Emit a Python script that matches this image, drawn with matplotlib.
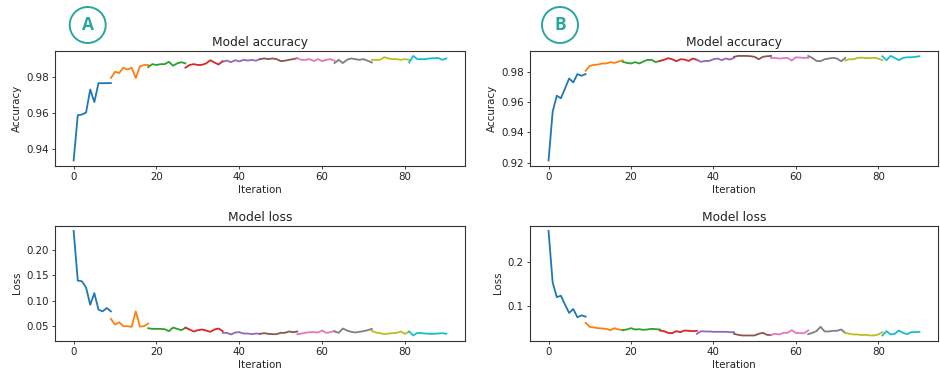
import matplotlib
matplotlib.use("Agg")
import matplotlib.pyplot as plt
from matplotlib.patches import Ellipse

# ---------------- data (10 training chunks of 10 points each) ----------------
chunk_starts = [0, 9, 18, 27, 36, 45, 54, 63, 72, 81]

acc_a = [
    [0.9333, 0.9587, 0.9591, 0.9602, 0.9731, 0.9661, 0.9767, 0.9767, 0.9767, 0.9768],
    [0.9796, 0.9831, 0.9824, 0.9854, 0.9843, 0.9854, 0.9796, 0.9861, 0.9869, 0.9869],
    [0.9857, 0.9874, 0.9869, 0.9874, 0.9874, 0.9887, 0.9865, 0.9878, 0.9885, 0.9878],
    [0.9854, 0.9869, 0.9874, 0.9869, 0.9870, 0.9878, 0.9896, 0.9883, 0.9872, 0.9891],
    [0.9887, 0.9894, 0.9885, 0.9896, 0.9889, 0.9898, 0.9894, 0.9898, 0.9893, 0.9902],
    [0.9902, 0.9906, 0.9902, 0.9906, 0.9902, 0.9891, 0.9893, 0.9898, 0.9902, 0.9907],
    [0.9907, 0.9898, 0.9898, 0.9902, 0.9891, 0.9902, 0.9891, 0.9898, 0.9902, 0.9893],
    [0.9880, 0.9898, 0.9880, 0.9898, 0.9906, 0.9902, 0.9898, 0.9902, 0.9893, 0.9883],
    [0.9898, 0.9898, 0.9898, 0.9913, 0.9906, 0.9902, 0.9902, 0.9898, 0.9902, 0.9898],
    [0.9883, 0.9920, 0.9902, 0.9902, 0.9902, 0.9906, 0.9907, 0.9909, 0.9898, 0.9906],
]

loss_a = [
    [0.2390, 0.1398, 0.1385, 0.1260, 0.0916, 0.1147, 0.0817, 0.0784, 0.0850, 0.0784],
    [0.0632, 0.0520, 0.0566, 0.0487, 0.0487, 0.0474, 0.0784, 0.0480, 0.0487, 0.0540],
    [0.0447, 0.0434, 0.0434, 0.0434, 0.0427, 0.0388, 0.0460, 0.0434, 0.0408, 0.0454],
    [0.0460, 0.0421, 0.0381, 0.0408, 0.0421, 0.0401, 0.0375, 0.0421, 0.0441, 0.0388],
    [0.0355, 0.0355, 0.0322, 0.0361, 0.0368, 0.0341, 0.0341, 0.0328, 0.0341, 0.0335],
    [0.0335, 0.0348, 0.0335, 0.0328, 0.0328, 0.0355, 0.0355, 0.0381, 0.0368, 0.0381],
    [0.0328, 0.0341, 0.0355, 0.0368, 0.0368, 0.0361, 0.0401, 0.0355, 0.0368, 0.0394],
    [0.0381, 0.0355, 0.0441, 0.0401, 0.0375, 0.0361, 0.0375, 0.0388, 0.0408, 0.0434],
    [0.0394, 0.0361, 0.0348, 0.0328, 0.0341, 0.0348, 0.0355, 0.0381, 0.0335, 0.0381],
    [0.0381, 0.0302, 0.0355, 0.0348, 0.0341, 0.0335, 0.0335, 0.0341, 0.0348, 0.0335],
]

acc_b = [
    [0.9214, 0.9537, 0.9642, 0.9625, 0.9690, 0.9756, 0.9730, 0.9785, 0.9774, 0.9785],
    [0.9807, 0.9839, 0.9846, 0.9848, 0.9855, 0.9855, 0.9864, 0.9859, 0.9868, 0.9875],
    [0.9866, 0.9859, 0.9855, 0.9864, 0.9855, 0.9868, 0.9879, 0.9879, 0.9864, 0.9872],
    [0.9872, 0.9879, 0.9890, 0.9883, 0.9870, 0.9883, 0.9881, 0.9872, 0.9888, 0.9879],
    [0.9879, 0.9866, 0.9872, 0.9872, 0.9883, 0.9888, 0.9877, 0.9888, 0.9881, 0.9892],
    [0.9899, 0.9905, 0.9905, 0.9905, 0.9903, 0.9899, 0.9883, 0.9899, 0.9903, 0.9905],
    [0.9892, 0.9892, 0.9888, 0.9890, 0.9892, 0.9875, 0.9896, 0.9894, 0.9892, 0.9892],
    [0.9905, 0.9892, 0.9872, 0.9870, 0.9883, 0.9888, 0.9892, 0.9888, 0.9870, 0.9892],
    [0.9875, 0.9883, 0.9883, 0.9892, 0.9894, 0.9890, 0.9892, 0.9892, 0.9888, 0.9877],
    [0.9903, 0.9877, 0.9905, 0.9892, 0.9877, 0.9892, 0.9896, 0.9896, 0.9899, 0.9903],
]

loss_b = [
    [0.2700, 0.1526, 0.1195, 0.1226, 0.1023, 0.0835, 0.0925, 0.0737, 0.0780, 0.0752],
    [0.0609, 0.0519, 0.0504, 0.0489, 0.0481, 0.0474, 0.0444, 0.0489, 0.0459, 0.0444],
    [0.0444, 0.0459, 0.0489, 0.0459, 0.0466, 0.0451, 0.0459, 0.0474, 0.0466, 0.0459],
    [0.0436, 0.0421, 0.0383, 0.0376, 0.0421, 0.0398, 0.0436, 0.0429, 0.0421, 0.0429],
    [0.0361, 0.0421, 0.0414, 0.0414, 0.0406, 0.0406, 0.0406, 0.0406, 0.0398, 0.0398],
    [0.0361, 0.0338, 0.0323, 0.0323, 0.0323, 0.0323, 0.0361, 0.0383, 0.0338, 0.0331],
    [0.0338, 0.0361, 0.0346, 0.0383, 0.0383, 0.0444, 0.0383, 0.0376, 0.0376, 0.0436],
    [0.0353, 0.0383, 0.0421, 0.0519, 0.0414, 0.0414, 0.0429, 0.0429, 0.0459, 0.0383],
    [0.0383, 0.0361, 0.0346, 0.0346, 0.0331, 0.0338, 0.0323, 0.0323, 0.0346, 0.0398],
    [0.0323, 0.0421, 0.0346, 0.0361, 0.0436, 0.0383, 0.0353, 0.0398, 0.0398, 0.0406],
]

x_ticks = [0, 20, 40, 60, 80]
acc_a_ticks = [0.94, 0.96, 0.98]
acc_a_labels = ["0.94", "0.96", "0.98"]
loss_a_ticks = [0.05, 0.10, 0.15, 0.20]
loss_a_labels = ["0.05", "0.10", "0.15", "0.20"]
acc_b_ticks = [0.92, 0.94, 0.96, 0.98]
acc_b_labels = ["0.92", "0.94", "0.96", "0.98"]
loss_b_ticks = [0.1, 0.2]
loss_b_labels = ["0.1", "0.2"]

panel_letters = ["A", "B"]

# ---------------- style ----------------
plt.rcParams["font.family"] = ["DejaVu Sans"]
TXT = "#222222"
TEAL = "#2aa69e"
W, H = 940, 378

fig = plt.figure(figsize=(W / 100, H / 100), dpi=100)
fig.patch.set_facecolor("white")


def make_ax(left, top, right, bottom):
    return fig.add_axes([left / W, 1 - bottom / H, (right - left) / W, (bottom - top) / H])


def draw(ax, segs, title, ylabel, yticks, ylabels):
    for s, vals in zip(chunk_starts, segs):
        ax.plot(list(range(s, s + len(vals))), vals, lw=1.3)
    ax.set_title(title, fontsize=8.8, color=TXT, pad=3.5)
    ax.set_ylabel(ylabel, fontsize=7.4, color=TXT, labelpad=3)
    ax.set_xlabel("Iteration", fontsize=7.4, color=TXT, labelpad=2)
    ax.set_xticks(x_ticks)
    ax.set_yticks(yticks)
    ax.set_yticklabels(ylabels)
    ax.tick_params(labelsize=7.4, colors=TXT, length=2.5, width=0.6, pad=2)
    for sp in ax.spines.values():
        sp.set_linewidth(0.8)
        sp.set_color("#333333")


axA1 = make_ax(55, 50.7, 465, 165.7)
axA2 = make_ax(55, 225.7, 465, 340.7)
axB1 = make_ax(530, 50.7, 938, 165.7)
axB2 = make_ax(530, 225.7, 938, 340.7)

draw(axA1, acc_a, "Model accuracy", "Accuracy", acc_a_ticks, acc_a_labels)
draw(axA2, loss_a, "Model loss", "Loss", loss_a_ticks, loss_a_labels)
draw(axB1, acc_b, "Model accuracy", "Accuracy", acc_b_ticks, acc_b_labels)
draw(axB2, loss_b, "Model loss", "Loss", loss_b_ticks, loss_b_labels)

# circled panel letters
for letter, cx in zip(panel_letters, [87.7, 560.0]):
    cy = 25.0
    fig.add_artist(Ellipse((cx / W, 1 - cy / H), 36 / W, 36 / H, transform=fig.transFigure,
                           fill=False, ec=TEAL, lw=1.4))
    fig.text(cx / W, 1 - cy / H, letter, ha="center", va="center", color=TEAL,
             fontsize=12.5, fontweight="bold", family=["Open Sans", "DejaVu Sans"])

fig.savefig("out.png", dpi=100, facecolor="white")
